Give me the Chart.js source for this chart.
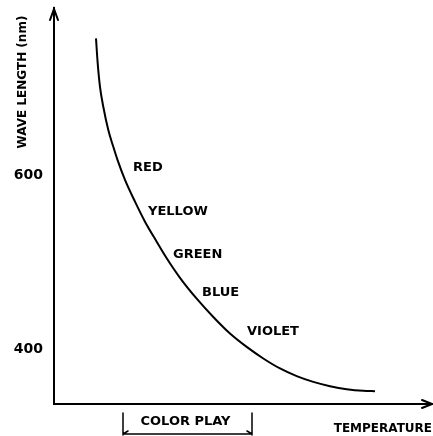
<!DOCTYPE html>
<html>
<head>
<meta charset="utf-8">
<script src="https://cdn.jsdelivr.net/npm/chart.js@4/dist/chart.umd.min.js"></script>
<style>
html,body{margin:0;padding:0;background:#fff;}
#wrap{width:433px;height:436px;}
</style>
</head>
<body>
<div id="wrap"><canvas id="c" width="433" height="436"></canvas></div>
<script>
// Temperature (arbitrary units) and wave length (nm)
const temperature = [42, 43.7, 46, 49.3, 54.3, 59.3, 63.5, 71, 81, 91, 102.7, 112.7, 126, 142.7, 159.3, 176, 192.7, 209.3, 226, 242.7, 259.3, 276, 292.7, 309.3, 321];
const waveLength  = [757.1, 728.4, 701.5, 678.5, 651.7, 632.5, 617.5, 594.5, 569.5, 546.5, 523.5, 504.5, 482, 458, 437, 418, 402.6, 389.3, 377.8, 369, 362.4, 357.5, 354, 352.1, 351.7];
const yTicks = [400, 600];
const colorNames = ["RED", "YELLOW", "GREEN", "BLUE", "VIOLET"];
const colorNameX = [79, 94, 119, 148, 193];
const colorNameY = [608.6, 557.5, 509, 465.5, 419.6];
const colorPlayRange = [69, 198];
const yTitle = "WAVE LENGTH (nm)";
const xTitle = "TEMPERATURE";
const rangeTitle = "COLOR PLAY";

const points = temperature.map((t, i) => ({x: t, y: waveLength[i]}));
const FONT = "'DejaVu Sans', sans-serif";

const decor = {
  id: 'decor',
  afterDraw(chart) {
    const ctx = chart.ctx;
    const xs = chart.scales.x, ys = chart.scales.y;
    const ca = chart.chartArea;
    ctx.save();
    ctx.strokeStyle = '#000';
    ctx.fillStyle = '#000';
    ctx.lineWidth = 2;
    ctx.lineCap = 'round';
    // y arrow
    ctx.beginPath();
    ctx.moveTo(ca.left - 4, ca.top + 12);
    ctx.lineTo(ca.left, ca.top + 1);
    ctx.lineTo(ca.left + 4, ca.top + 12);
    ctx.stroke();
    // x arrow
    ctx.beginPath();
    ctx.moveTo(ca.right, ca.bottom);
    ctx.lineTo(ca.right + 2, ca.bottom);
    ctx.stroke();
    ctx.beginPath();
    ctx.moveTo(ca.right - 8, ca.bottom - 4);
    ctx.lineTo(ca.right + 2, ca.bottom);
    ctx.lineTo(ca.right - 8, ca.bottom + 4);
    ctx.stroke();
    // curve labels
    ctx.font = "bold 13px " + FONT;
    ctx.textAlign = 'left';
    ctx.textBaseline = 'middle';
    colorNames.forEach((n, i) => {
      ctx.fillText(n, xs.getPixelForValue(colorNameX[i]), ys.getPixelForValue(colorNameY[i]));
    });
    // y title
    ctx.save();
    ctx.translate(23, 82);
    ctx.rotate(-Math.PI / 2);
    ctx.font = "bold 12px " + FONT;
    ctx.textAlign = 'center';
    ctx.fillText(yTitle, 0, 0);
    ctx.restore();
    // x title
    ctx.font = "bold 12px " + FONT;
    ctx.textAlign = 'right';
    ctx.fillText(xTitle, 432, 429);
    // color play bracket
    const x0 = xs.getPixelForValue(colorPlayRange[0]);
    const x1 = xs.getPixelForValue(colorPlayRange[1]);
    const yb = ca.bottom + 30;
    ctx.lineWidth = 1.5;
    ctx.beginPath();
    ctx.moveTo(x0, ca.bottom + 9); ctx.lineTo(x0, yb + 1);
    ctx.moveTo(x1, ca.bottom + 9); ctx.lineTo(x1, yb + 1);
    ctx.moveTo(x0, yb); ctx.lineTo(x1, yb);
    ctx.moveTo(x0 + 5, yb - 3); ctx.lineTo(x0, yb);
    ctx.moveTo(x1 - 5, yb - 3); ctx.lineTo(x1, yb);
    ctx.stroke();
    ctx.font = "bold 13px " + FONT;
    ctx.textAlign = 'center';
    ctx.fillText(rangeTitle, (x0 + x1) / 2 - 2, ca.bottom + 18);
    ctx.restore();
  }
};

new Chart(document.getElementById('c'), {
  type: 'scatter',
  data: {
    datasets: [{
      data: points,
      showLine: true,
      borderColor: '#000',
      borderWidth: 2,
      pointRadius: 0,
      cubicInterpolationMode: 'monotone',
      fill: false
    }]
  },
  options: {
    responsive: false,
    animation: false,
    devicePixelRatio: 1,
    layout: {padding: {top: 8, right: 3, left: 0, bottom: 0}},
    plugins: {legend: {display: false}, tooltip: {enabled: false}},
    scales: {
      x: {
        type: 'linear', min: 0, max: 376,
        grid: {display: false, drawTicks: false},
        border: {display: true, color: '#000', width: 2},
        ticks: {display: false},
        afterFit(s) { s.height = 32; s.paddingLeft = 0; s.paddingRight = 0; }
      },
      y: {
        type: 'linear', min: 337, max: 792,
        grid: {display: false, drawTicks: false},
        border: {display: true, color: '#000', width: 2},
        afterBuildTicks(s) { s.ticks = yTicks.map(v => ({value: v})); },
        ticks: {
          color: '#000',
          padding: 11,
          font: {family: "'DejaVu Sans', sans-serif", size: 14, weight: 'bold'},
          callback: v => String(v)
        },
        afterFit(s) { s.width = 54; s.paddingTop = 0; s.paddingBottom = 0; }
      }
    }
  },
  plugins: [decor]
});
</script>
</body>
</html>
